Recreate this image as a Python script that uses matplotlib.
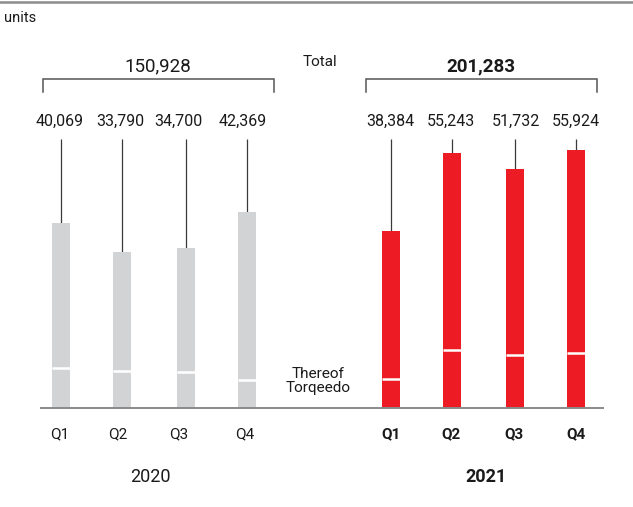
import numpy as np
import matplotlib
matplotlib.use('Agg')
import matplotlib.pyplot as plt

plt.rcParams['font.family'] = ['Roboto', 'DejaVu Sans']

quarters = ['Q1', 'Q2', 'Q3', 'Q4']
years = ['2020', '2021']
units_2020 = [40069, 33790, 34700, 42369]
units_2021 = [38384, 55243, 51732, 55924]
torqeedo_2020 = [8660, 8010, 7800, 6070]
torqeedo_2021 = [6280, 12560, 11480, 11910]

W, H = 633, 507
BASE = 408          # pixel row of the baseline
UPP = 216.7         # units per pixel


def row(py):
    # pixel row -> data value on the y axis
    return (BASE - py) * UPP


fig = plt.figure(figsize=(W / 100, H / 100), dpi=100)
ax = fig.add_axes([0, 0, 1, 1])
ax.set_xlim(0, W)
ax.set_ylim(row(H), row(0))
ax.axis('off')

txt = '#1a1a1a'
grey = '#d2d3d5'
red = '#ed1c24'

groups = [
    dict(vals=units_2020, thereof=torqeedo_2020, xs=[61, 122, 186, 247],
         val_x=[60, 120, 178, 243], q_x=[60, 118, 179, 245],
         color=grey, weight='normal', bracket=(43, 274), total_x=158, year_x=150),
    dict(vals=units_2021, thereof=torqeedo_2021, xs=[391, 452, 515, 576],
         val_x=[390, 451, 516, 576], q_x=[391, 451, 514, 576],
         color=red, weight='bold', bracket=(366, 597), total_x=481, year_x=486),
]

for yr, g in zip(years, groups):
    xs = np.array(g['xs'])
    ax.bar(xs, g['vals'], width=18, color=g['color'], zorder=2)
    ax.hlines(g['thereof'], xs - 9, xs + 9, color='white', lw=1.8, zorder=3)
    ax.vlines(xs, g['vals'], row(139), color='#3a3a3a', lw=0.9, zorder=1)

    for x, v in zip(g['val_x'], g['vals']):
        ax.text(x, row(121), f'{v:,}', ha='center', va='center',
                fontsize=11.5, color=txt)
    for x, q in zip(g['q_x'], quarters):
        ax.text(x, row(434), q, ha='center', va='center', fontsize=11,
                fontweight=g['weight'], color=txt)

    # bracket over the four quarters with the annual total
    x0, x1 = g['bracket']
    ax.plot([x0, x0, x1, x1], [row(92), row(79), row(79), row(92)],
            color='#555555', lw=1.1, solid_joinstyle='miter')
    ax.text(g['total_x'], row(66), f"{sum(g['vals']):,}", ha='center',
            va='center', fontsize=13.5, fontweight=g['weight'], color=txt)
    ax.text(g['year_x'], row(477), yr, ha='center', va='center',
            fontsize=13, fontweight=g['weight'], color=txt)

ax.text(320, row(62), 'Total', ha='center', va='center', fontsize=11, color=txt)
ax.text(318, row(381), 'Thereof\nTorqeedo', ha='center', va='center',
        fontsize=11, linespacing=1.05, color=txt)
ax.text(4, row(18), 'units', ha='left', va='center', fontsize=10.5, color=txt)

# rules
ax.plot([0, W], [row(2), row(2)], color='#8c8c8c', lw=1.8)
ax.plot([41, 603], [0, 0], color='#8a8a8a', lw=1.4, zorder=4)

fig.savefig('out.png', dpi=100)
